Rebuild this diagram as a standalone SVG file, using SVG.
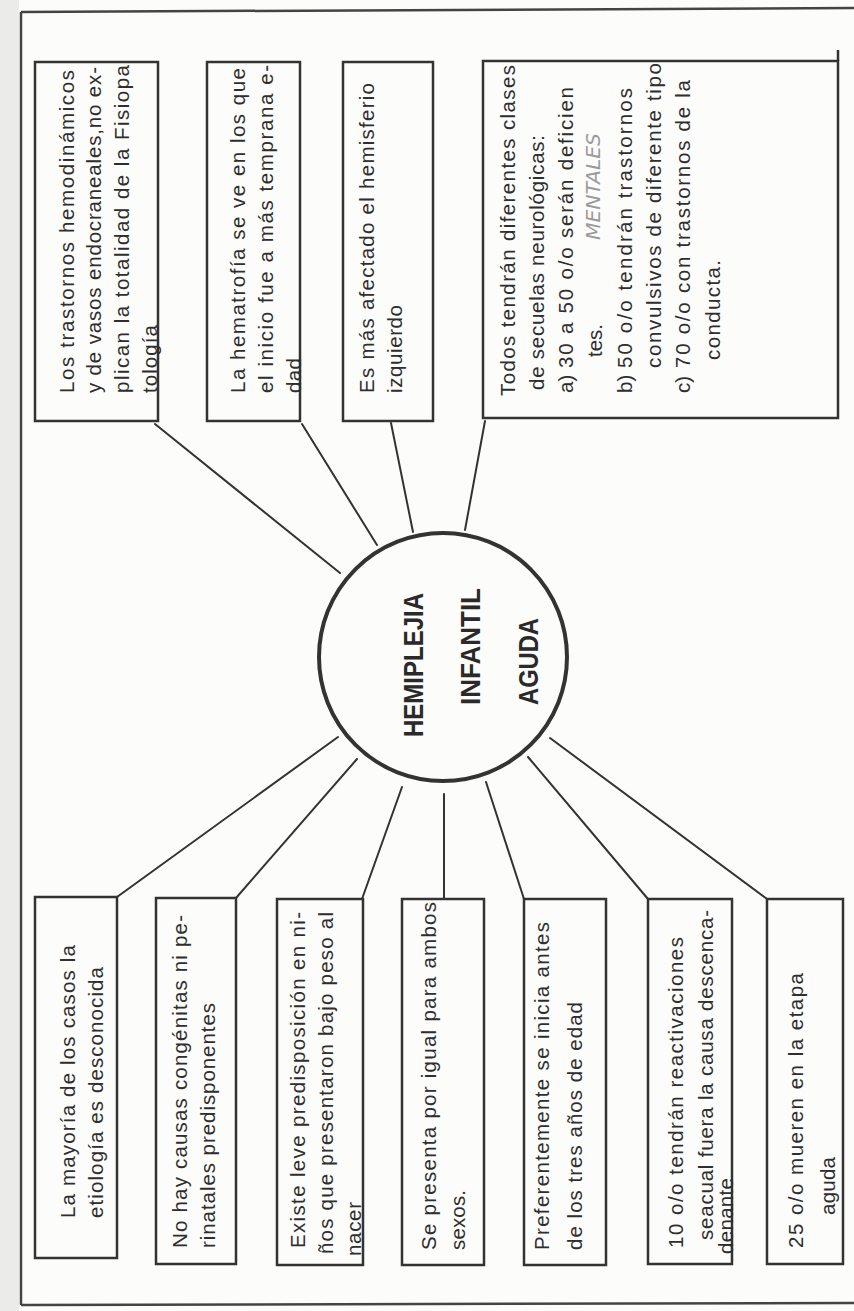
<svg xmlns="http://www.w3.org/2000/svg" width="854" height="1311" viewBox="0 0 854 1311">
<style>
.bg{fill:#fcfcfa}
.box{fill:none;stroke:#333;stroke-width:2.5}
.con line{stroke:#333;stroke-width:2;stroke-linecap:round}
.frame{stroke:#444;stroke-width:2.5;fill:none}
.t{font-family:"Liberation Sans Narrow","Liberation Sans",Arial,sans-serif;font-size:20.5px;fill:#2e2e2e}
.c{font-family:"Liberation Sans Narrow","Liberation Sans",Arial,sans-serif;font-weight:bold;font-size:28px;fill:#2a2a2a}
.hw{font-family:"DejaVu Sans",sans-serif;font-style:italic;font-size:20px;fill:#9a9a9a}
</style>
<rect class="bg" x="0" y="0" width="854" height="1311"/>
<rect x="0" y="0" width="19" height="1311" fill="#ebebea"/>
<g id="frame">
<path class="frame" d="M21 12 L854 8"/>
<path class="frame" d="M21 12 L21 1305"/>
<path class="frame" d="M21 1305 L854 1303"/>
</g>

<g id="connectors" class="con">
<line x1="155" y1="424" x2="340" y2="573"/>
<line x1="302" y1="424" x2="377" y2="545"/>
<line x1="391" y1="423" x2="413" y2="532"/>
<line x1="485" y1="421" x2="465" y2="530"/>
<line x1="338" y1="737" x2="117" y2="897"/>
<line x1="357" y1="759" x2="236" y2="898"/>
<line x1="402" y1="787" x2="362" y2="899"/>
<line x1="444" y1="794" x2="444" y2="899"/>
<line x1="486" y1="782" x2="524" y2="899"/>
<line x1="528" y1="757" x2="648" y2="899"/>
<line x1="550" y1="738" x2="767" y2="899"/>
</g>

<g id="center">
<circle cx="443" cy="657" r="124" fill="none" stroke="#333" stroke-width="4"/>
<text class="c" transform="rotate(-90)" x="-737" y="423" textLength="144" lengthAdjust="spacingAndGlyphs">HEMIPLEJIA</text>
<text class="c" transform="rotate(-90)" x="-705" y="480" textLength="117" lengthAdjust="spacingAndGlyphs">INFANTIL</text>
<text class="c" transform="rotate(-90)" x="-705" y="538" textLength="87" lengthAdjust="spacingAndGlyphs">AGUDA</text>
</g>

<g id="top1">
<rect class="box" x="35" y="62" width="123" height="359"/>
<g class="t" transform="rotate(-90)">
<text x="-393" y="74" textLength="323" lengthAdjust="spacing">Los trastornos hemodinámicos</text>
<text x="-393" y="101" textLength="326" lengthAdjust="spacing">y de vasos endocraneales,no ex-</text>
<text x="-393" y="129" textLength="328" lengthAdjust="spacing">plican la totalidad de la Fisiopa</text>
<text x="-393" y="157" textLength="68" lengthAdjust="spacing">tología</text>
</g>
</g>

<g id="top2">
<rect class="box" x="207" y="62" width="93" height="359"/>
<g class="t" transform="rotate(-90)">
<text x="-393" y="245" textLength="325" lengthAdjust="spacing">La hematrofía se ve en los que</text>
<text x="-393" y="273" textLength="328" lengthAdjust="spacing">el inicio fue a más temprana e-</text>
<text x="-393" y="301" textLength="35" lengthAdjust="spacing">dad</text>
</g>
</g>

<g id="top3">
<rect class="box" x="343" y="62" width="90" height="359"/>
<g class="t" transform="rotate(-90)">
<text x="-393" y="374" textLength="310" lengthAdjust="spacing">Es más afectado el hemisferio</text>
<text x="-393" y="402" textLength="88" lengthAdjust="spacing">izquierdo</text>
</g>
</g>

<g id="top4">
<rect class="box" x="483" y="61" width="355" height="357"/>
<line x1="838" y1="50" x2="838" y2="61" stroke="#333" stroke-width="2.5"/>
<g class="t" transform="rotate(-90)">
<text x="-396" y="515" textLength="331" lengthAdjust="spacing">Todos tendrán diferentes clases</text>
<text x="-390" y="544" textLength="255" lengthAdjust="spacing">de secuelas neurológicas:</text>
<text x="-393" y="573">a)</text>
<text x="-368" y="573" textLength="281" lengthAdjust="spacing">30 a 50 o/o serán deficien</text>
<text x="-357" y="602">tes.</text>
<text x="-393" y="632">b)</text>
<text x="-368" y="632" textLength="280" lengthAdjust="spacing">50 o/o tendrán trastornos</text>
<text x="-368" y="661" textLength="305" lengthAdjust="spacing">convulsivos de diferente tipo</text>
<text x="-393" y="690">c)</text>
<text x="-368" y="690" textLength="288" lengthAdjust="spacing">70 o/o con trastornos de la</text>
<text x="-360" y="720" textLength="100" lengthAdjust="spacing">conducta.</text>
</g>
<text class="hw" transform="rotate(-90)" x="-240" y="600" textLength="107" lengthAdjust="spacingAndGlyphs">MENTALES</text>
</g>

<g id="bot1">
<rect class="box" x="35" y="897" width="82" height="361"/>
<g class="t" transform="rotate(-90)">
<text x="-1218" y="75" textLength="273" lengthAdjust="spacing">La mayoría de los casos la</text>
<text x="-1218" y="103" textLength="251" lengthAdjust="spacing">etiología es desconocida</text>
</g>
</g>

<g id="bot2">
<rect class="box" x="156" y="898" width="80" height="366"/>
<g class="t" transform="rotate(-90)">
<text x="-1248" y="187" textLength="333" lengthAdjust="spacing">No hay causas congénitas  ni pe-</text>
<text x="-1248" y="215" textLength="245" lengthAdjust="spacing">rinatales predisponentes</text>
</g>
</g>

<g id="bot3">
<rect class="box" x="277" y="899" width="86" height="366"/>
<g class="t" transform="rotate(-90)">
<text x="-1248" y="305" textLength="336" lengthAdjust="spacing">Existe leve predisposición en ni-</text>
<text x="-1254" y="333" textLength="342" lengthAdjust="spacing">ños que presentaron bajo peso al</text>
<text x="-1256" y="361" textLength="54" lengthAdjust="spacing">nacer</text>
</g>
</g>

<g id="bot4">
<rect class="box" x="402" y="899" width="82" height="366"/>
<g class="t" transform="rotate(-90)">
<text x="-1250" y="436" textLength="348" lengthAdjust="spacing">Se presenta por igual para ambos</text>
<text x="-1250" y="465" textLength="60" lengthAdjust="spacing">sexos.</text>
</g>
</g>

<g id="bot5">
<rect class="box" x="524" y="899" width="82" height="366"/>
<g class="t" transform="rotate(-90)">
<text x="-1250" y="549" textLength="328" lengthAdjust="spacing">Preferentemente se inicia antes</text>
<text x="-1250" y="582" textLength="248" lengthAdjust="spacing">de los tres años de edad</text>
</g>
</g>

<g id="bot6">
<rect class="box" x="648" y="899" width="84" height="365"/>
<g class="t" transform="rotate(-90)">
<text x="-1248" y="683" textLength="311" lengthAdjust="spacing">10 o/o tendrán reactivaciones</text>
<text x="-1240" y="713" textLength="330" lengthAdjust="spacing">seacual fuera la causa descenca-</text>
<text x="-1254" y="733" textLength="76" lengthAdjust="spacing">denante</text>
</g>
</g>

<g id="bot7">
<rect class="box" x="767" y="899" width="76" height="365"/>
<g class="t" transform="rotate(-90)">
<text x="-1248" y="803" textLength="275" lengthAdjust="spacing">25 o/o mueren en la etapa</text>
<text x="-1215" y="835" textLength="58" lengthAdjust="spacing">aguda</text>
</g>
</g>
</svg>
